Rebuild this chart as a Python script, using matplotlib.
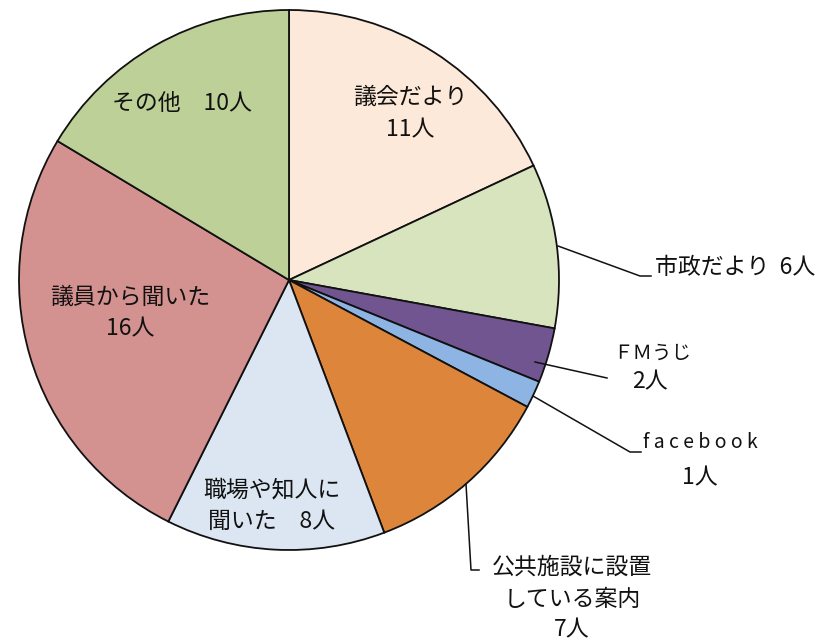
import matplotlib
matplotlib.use("Agg")
import matplotlib.pyplot as plt

plt.rcParams['font.family'] = ['Noto Sans CJK JP', 'DejaVu Sans']

categories = ["議会だより", "市政だより", "ＦＭうじ", "facebook",
              "公共施設に設置している案内", "職場や知人に聞いた", "議員から聞いた", "その他"]
values = [11, 6, 2, 1, 7, 8, 16, 10]
colors = ["#FDE9D9", "#D7E4BD", "#705591", "#8EB4E3",
          "#DE853C", "#DCE6F2", "#D39290", "#BDD097"]

W, H = 839, 642
fig = plt.figure(figsize=(W / 100, H / 100), dpi=100)
ax = fig.add_axes([0, 0, 1, 1])

def Y(y):
    return H - y

ax.pie(values, colors=colors, startangle=90, counterclock=False,
       center=(289, Y(280)), radius=270, frame=True,
       wedgeprops=dict(edgecolor='#111111', linewidth=1.3))
ax.set_xlim(0, W)
ax.set_ylim(0, H)
ax.set_aspect('auto')
ax.axis('off')

fs = 16.5
tc = '#111111'

def txt(x, y, s, ha='center', size=fs):
    ax.text(x, Y(y), s, ha=ha, va='center', fontsize=size, color=tc)

# inside labels
txt(410, 97, "議会だより")
txt(410, 130, "11人")
txt(182, 103, "その他　10人")
txt(130, 297, "議員から聞いた")
txt(130, 329, "16人")
txt(272, 490, "職場や知人に")
txt(272, 521, "聞いた　8人")

# leader lines
lk = dict(color='#111111', linewidth=1.1)
ax.plot([558, 640, 651], [Y(246), Y(276), Y(276)], **lk)
ax.plot([535, 607], [Y(362), Y(378)], **lk)
ax.plot([533, 630, 641], [Y(396), Y(452), Y(452)], **lk)
ax.plot([466, 471, 479], [Y(484), Y(570), Y(570)], **lk)

# outside labels
txt(655, 268, "市政だより  6人", ha='left')
txt(652, 353, "ＦＭうじ", size=14)
txt(650, 382, "2人")
txt(700, 443, "f a c e b o o k", size=14)
txt(700, 478, "1人")
txt(572, 567, "公共施設に設置")
txt(572, 600, "している案内")
txt(572, 630, "7人")

fig.savefig("out.png", dpi=100)
